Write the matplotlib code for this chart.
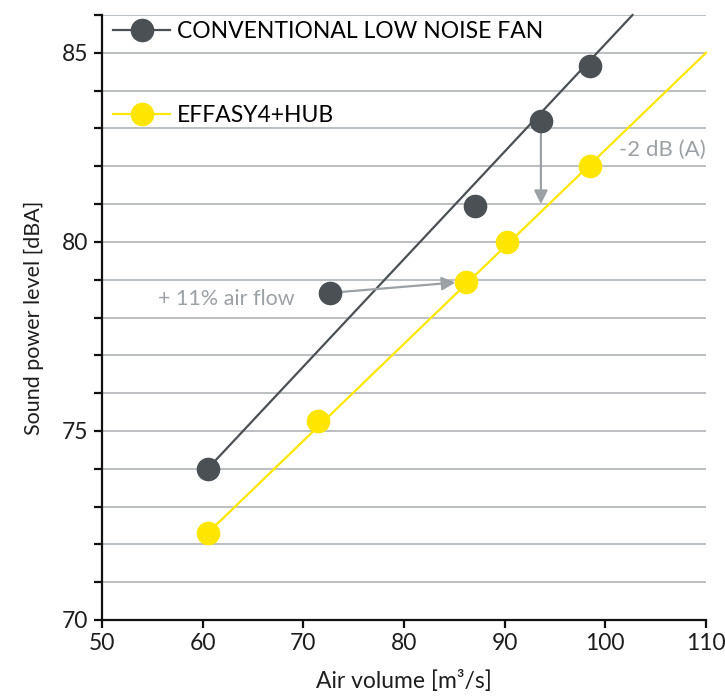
import matplotlib.pyplot as plt
from matplotlib.lines import Line2D

plt.rcParams['font.family'] = ['Lato', 'DejaVu Sans']

conv_x = [60.5, 72.6, 87.1, 93.6, 98.5]
conv_y = [74.0, 78.65, 80.95, 83.2, 84.65]
effasy_x = [60.5, 71.5, 86.2, 90.2, 98.5]
effasy_y = [72.3, 75.25, 78.95, 80.0, 82.0]

# trend lines (end points)
conv_trend_x = [60.5, 102.7]
conv_trend_y = [74.0, 86.0]
effasy_trend_x = [60.5, 110.0]
effasy_trend_y = [72.3, 85.0]

labels = ['CONVENTIONAL LOW NOISE FAN', 'EFFASY4+HUB']

dark = '#4a5054'
yellow = '#ffe600'
note = '#9ba1a5'
grid_c = '#a9aeb1'
txt = '#1e1e1e'

fig = plt.figure(figsize=(7.25, 6.98), dpi=100)
ax = fig.add_axes([102/725, 1 - 620/698, 604/725, 605/698])

ax.set_xlim(50, 110)
ax.set_ylim(70, 86)
ax.set_xticks(range(50, 111, 10))
ax.set_yticks([70, 75, 80, 85])
ax.set_yticks(range(71, 87), minor=True)
ax.grid(axis='y', which='both', color=grid_c, lw=1.1, zorder=0)
ax.set_axisbelow(True)

for s in ['top', 'right']:
    ax.spines[s].set_visible(False)
for s in ['left', 'bottom']:
    ax.spines[s].set_linewidth(1.6)
    ax.spines[s].set_color('#111111')

ax.tick_params(which='both', length=6, width=1.6, color='#111111')
ax.tick_params(axis='y', which='major', labelsize=16.5, labelcolor=txt, pad=4)
ax.tick_params(axis='x', labelsize=16.5, labelcolor=txt, pad=3)

# trend lines
ax.plot(conv_trend_x, conv_trend_y, color=dark, lw=1.6, zorder=2, clip_on=False)
ax.plot(effasy_trend_x, effasy_trend_y, color=yellow, lw=1.6, zorder=2, clip_on=False)

# arrows
ax.annotate('', xy=(conv_x[3], 81.0), xytext=(conv_x[3], conv_y[3]),
            arrowprops=dict(arrowstyle='-|>', color=note, lw=1.6,
                            mutation_scale=20, shrinkA=8, shrinkB=0), zorder=3)
ax.annotate('', xy=(effasy_x[2], effasy_y[2]), xytext=(conv_x[1], conv_y[1]),
            arrowprops=dict(arrowstyle='-|>', color=note, lw=1.6,
                            mutation_scale=20, shrinkA=0, shrinkB=8), zorder=3)

# markers
ax.plot(conv_x, conv_y, 'o', color=dark, ms=16, zorder=4)
ax.plot(effasy_x, effasy_y, 'o', color=yellow, ms=16, zorder=4)

ax.text(101.4, 82.43, '-2 dB (A)', color=note, fontsize=16, va='center', ha='left')
ax.text(55.6, 78.5, '+ 11% air flow', color=note, fontsize=15.5, va='center', ha='left')

ax.set_xlabel('Air volume [m³/s]', fontsize=16.5, color=txt, labelpad=12)
ax.set_ylabel('Sound power level [dBA]', fontsize=15.5, color=txt, labelpad=13)

handles = [Line2D([], [], color=dark, lw=1.6, marker='o', ms=16),
           Line2D([], [], color=yellow, lw=1.6, marker='o', ms=16)]
fig.legend(handles, labels, loc='upper left', bbox_to_anchor=(113/725, 1 - 21/698),
           frameon=False, fontsize=16.5, handlelength=2.49, handletextpad=0.3,
           labelspacing=2.76, borderpad=0, borderaxespad=0)

plt.savefig('out.png', dpi=100)
